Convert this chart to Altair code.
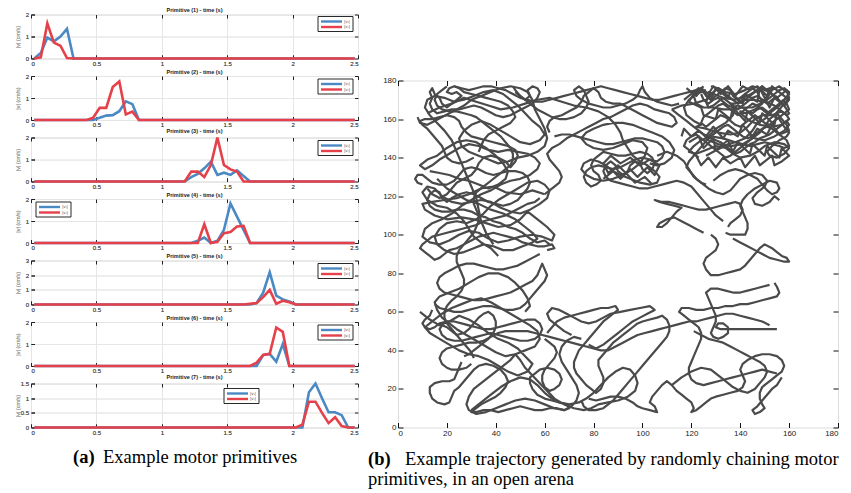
import altair as alt
import pandas as pd

BLUE = "#4a89c3"
RED = "#e6404a"
INK = "#4a4a4a"
GRID = "#e4e4e4"

T_FIRST, T_LAST = 0.025, 2.475
X_TICKS = [0, 0.5, 1, 1.5, 2, 2.5]

# Wheel speed profiles of the seven motor primitives (cm/s), sampled every 50 ms
# inside each primitive's active window; both wheels rest outside it.
p1_t = [0.025, 0.075, 0.125, 0.175, 0.225, 0.275, 0.325, 0.375]
p1_l = [0, 0.25, 0.95, 0.78, 1.0, 1.35, 0, 0]
p1_r = [0, 0.05, 1.6, 0.72, 0.58, 0.02, 0, 0]

p2_t = [0.425, 0.475, 0.525, 0.575, 0.625, 0.675, 0.725, 0.775, 0.825]
p2_l = [0, 0, 0.1, 0.2, 0.22, 0.4, 0.85, 0.72, 0]
p2_r = [0, 0.1, 0.55, 0.55, 1.5, 1.75, 0.25, 0.38, 0]

p3_t = [1.175, 1.225, 1.275, 1.325, 1.375, 1.425, 1.475, 1.525, 1.575, 1.625, 1.675]
p3_l = [0, 0.2, 0.35, 0.6, 0.9, 0.3, 0.4, 0.3, 0.5, 0.25, 0]
p3_r = [0, 0.45, 0.45, 0.2, 0.75, 2.0, 0.75, 0.55, 0.45, 0, 0]

p4_t = [1.225, 1.275, 1.325, 1.375, 1.425, 1.475, 1.525, 1.575, 1.625, 1.675]
p4_l = [0, 0.1, 0.25, 0, 0.1, 0.6, 1.8, 1.2, 0.6, 0]
p4_r = [0, 0, 0.85, 0, 0.05, 0.45, 0.5, 0.75, 0.78, 0]

p5_t = [1.625, 1.675, 1.725, 1.775, 1.825, 1.875, 1.925, 1.975, 2.025]
p5_l = [0, 0, 0.1, 0.8, 2.2, 0.6, 0.35, 0.2, 0]
p5_r = [0, 0.05, 0.1, 0.5, 1.0, 0.05, 0.25, 0.15, 0]

p6_t = [1.675, 1.725, 1.775, 1.825, 1.875, 1.925, 1.975]
p6_l = [0, 0, 0.5, 0.55, 0.2, 1.0, 0]
p6_r = [0, 0.15, 0.5, 0.55, 1.75, 1.55, 0]

p7_t = [2.025, 2.075, 2.125, 2.175, 2.225, 2.275, 2.325, 2.375, 2.425]
p7_l = [0, 0, 1.2, 1.5, 1.0, 0.52, 0.52, 0.42, 0]
p7_r = [0, 0.1, 0.88, 0.88, 0.5, 0.15, 0.35, 0.05, 0]

y_max = [2, 2, 2, 2, 3, 2, 1.5]
y_ticks = [[0, 1, 2], [0, 1, 2], [0, 1, 2], [0, 1, 2], [0, 1, 2, 3], [0, 1, 2], [0, 0.5, 1, 1.5]]
legend_names = ["|vₗ|", "|vᵣ|"]
# legend box (left, top) inside each panel, in pixels
legend_box = [(287, 2), (287, 3), (287, 3), (5, 3), (287, 3), (287, 3), (193, 5)]

# Trajectory of the robot in the arena (cm), one leg after another
leg_a = [(62,95),(60,97),(57,96),(54,98),(51,101),(48,103),(45,104),(42,106),(39,107),(36,109),(33,110),(30,112),
         (27,113),(24,113),(21,112),(18,112),(15,113),(13,115),(12,118),(13,121),(15,123),(17,122),(18,119),(20,117),
         (22,119),(25,121),(28,122),(31,121),(34,119),(37,117),(40,116),(43,115),(46,116),(49,118),(51,121),(53,124),
         (54,127),(53,130),(51,132),(48,133),(45,133),(42,132),(39,131),(36,132),(33,134),(30,135),(27,134),(25,131),
         (23,128),(20,126),(17,126),(14,127),(12,129),(10,131),(8,131),(7,129),(8,127),(10,126)]
leg_b = [(12,124),(14,121),(17,119),(20,121),(22,124),(24,127),(27,129),(30,131),(32,134),(33,137),(35,140),(38,141),
         (41,140),(44,138),(46,135),(48,138),(49,141),(48,144),(45,146),(42,147),(39,148),(36,149),(33,150),(30,151),
         (28,153),(26,156),(25,159),(23,161),(20,162),(17,161),(14,160),(11,160),(9,159),(10,157),(12,155),(14,152),
         (16,149),(18,146),(19,143),(20,140),(22,138),(25,137),(28,138),(31,140)]
leg_c = [(33,143),(34,146),(35,149),(37,152),(40,154),(43,156),(46,158),(48,161),(47,164),(45,167),(42,169),(39,170),
         (36,171),(33,172),(30,173),(27,174),(25,176),(23,177),(21,176),(20,174),(22,173),(24,174),(26,172),(24,170),
         (22,168),(20,166),(18,168),(17,171),(15,173),(14,176),(13,174),(14,171),(13,168),(14,165),(16,163),(19,164),
         (22,165),(25,165),(28,166),(31,167),(34,166),(37,164),(40,162),(43,161),(46,162),(49,164),(52,166),(55,168),
         (57,171),(58,174),(57,176),(55,177),(53,175),(54,172),(52,170),(50,172),(48,175),(47,177)]
leg_d = [(48,174),(51,171),(54,168),(57,165),(60,163),(63,161),(66,160),(69,160),(72,161),(75,163),(77,166),(78,169),
         (77,172),(76,175),(74,177),(72,175),(73,172),(75,170),(78,168),(81,167),(84,166),(87,166),(90,167),(93,168),
         (96,170),(98,172),(99,175),(100,177),(101,174),(103,171),(106,169),(109,168),(112,167),(115,168)]
leg_e = [(117,170),(119,172),(121,174),(123,176),(125,175),(126,172),(128,170),(130,172),(132,174),(134,176),(136,175),
         (137,172),(139,170),(141,172),(143,174),(145,176),(147,174),(148,171),(150,169),(152,171),(154,173),(156,175),
         (158,176),(160,174),(159,171),(157,169),(155,167),(153,165),(151,163),(149,165),(147,167),(145,168),(143,166),
         (141,164),(139,162),(137,164),(135,166),(133,168),(131,167),(129,165),(127,163),(125,161),(124,158),(126,156),
         (128,158),(130,160),(132,162),(134,161),(136,159),(138,157),(140,156),(142,158),(144,160),(146,162),(148,160),
         (150,158),(152,157),(154,159),(156,161),(158,163),(160,165),(159,168),(157,170)]
leg_f = [(155,172),(153,170),(151,168),(149,170),(147,172),(145,171),(143,169),(141,167),(139,165),(137,167),(135,169),
         (133,171),(131,169),(129,167),(127,166),(126,169),(127,172),(129,174),(131,176),(133,174),(135,172),(137,170),
         (139,168),(141,169),(143,171),(145,173),(147,175),(149,177),(151,175),(153,173),(155,171),(157,173),(159,175),
         (160,171),(158,168),(156,165),(154,162),(152,160),(150,156),(148,153),(146,151),(144,149),(142,147),(140,145),
         (138,143),(136,141),(134,140),(132,142),(130,144),(128,146),(126,148),(124,150),(122,152),(120,151),(118,149),
         (117,146),(119,144),(121,142),(123,140)]
leg_g = [(126,141),(129,143),(132,145),(135,147),(138,148),(141,147),(144,146),(147,147),(150,148),(153,147),(156,146),
         (158,145),(160,146),(159,149),(157,151),(155,153),(153,155),(151,156),(149,155),(147,153),(145,151),(143,150),
         (141,151),(139,153),(137,155),(135,157),(133,156),(131,154),(129,152),(127,150),(125,147),(123,144),(121,141),
         (119,138),(118,135),(120,132),(122,129),(124,127),(126,126)]
leg_h = [(129,128),(132,131),(135,133),(138,134),(141,133),(144,131),(147,129),(149,126),(151,123),(153,121),(155,122),
         (156,124),(155,127),(152,128),(149,126),(146,124),(143,121),(141,118),(140,115),(141,112),(142,109),(143,106),
         (143,103),(142,100),(139,100),(136,100),(134,101)]
leg_i = [(137,98),(140,96),(143,94),(146,92),(149,90),(152,88),(155,87),(158,86),(160,86),(159,88),(157,89),(155,91),
         (153,93),(150,95),(148,93),(146,90),(144,87),(142,84),(140,82),(137,81),(134,80),(131,79),(128,79),(126,82),
         (125,85),(126,88),(128,90),(130,92),(131,95),(130,98),(128,100)]
leg_j = [(125,101),(122,103),(119,105),(116,107),(113,109),(110,108),(107,106),(106,104),(108,104),(110,106),(112,109),
         (114,112),(116,114),(113,115),(110,116),(107,117),(105,118),(108,117),(111,117),(114,116),(117,115),(120,114),
         (123,113),(126,113),(129,114),(132,115),(135,116),(138,117),(140,116),(141,113),(140,110),(138,108),(136,106),
         (135,104)]
leg_k = [(133,107),(130,110),(128,113),(126,116),(124,119),(122,122),(120,125),(117,127),(114,128),(111,127),(108,126),
         (105,125),(102,124),(99,124),(96,125),(93,126),(90,127),(87,128),(85,130),(84,133),(85,136),(87,138),(89,136),
         (90,133),(92,131),(94,133),(95,136),(97,138),(99,137),(100,134),(102,132),(104,134),(105,137),(104,140),
         (102,142),(99,143),(96,142),(93,141),(90,141),(87,142),(84,143),(82,141),(80,139),(79,136),(80,133),(82,131),
         (83,128),(81,126),(79,125),(77,127),(76,130),(77,133),(79,135),(82,136),(85,135),(88,134),(91,135),(94,137),
         (97,139),(100,140),(103,139),(106,138),(108,140),(109,143),(108,146),(106,148),(103,149),(100,150),(97,150),
         (94,149),(91,148),(88,147),(85,147),(82,148),(79,149),(76,150),(73,151),(70,152),(67,152),(64,151)]
leg_l = [(62,153),(61,156),(62,159),(64,161),(67,162),(70,164),(73,166),(75,169),(76,172),(78,174),(80,176),(82,174),
         (83,171),(85,169),(88,168),(91,168),(94,166),(97,164),(100,162),(103,160),(106,158),(109,157),(112,156),
         (114,158),(113,161),(111,163),(108,164),(105,165),(102,167),(99,168),(96,167),(93,165),(90,163),(87,161),
         (84,160),(81,158),(78,156),(75,154),(72,152),(69,150),(66,147),(63,145),(61,142),(62,139),(64,136),(66,133),
         (67,130),(66,127),(64,125),(62,123),(60,121)]
leg_m = [(58,119),(56,117),(53,116),(50,114),(47,112),(44,110),(41,109),(38,108),(35,107),(32,105),(29,104),(26,103),
         (23,102),(20,101),(17,100),(14,99),(12,97),(10,95),(9,93),(11,91),(13,89),(15,87),(17,88),(19,90),(21,92),
         (24,93),(27,95),(30,97),(33,99),(36,100),(39,101),(42,100),(45,99),(48,98),(51,96),(54,95),(57,94),(60,94),
         (63,95),(64,93),(61,92)]
leg_n = [(58,90),(55,88),(52,86),(49,84),(46,83),(43,82),(40,82),(37,83),(34,84),(31,85),(28,85),(25,84),(22,82),
         (19,80),(17,78),(16,75),(17,72),(19,70),(22,69),(25,68),(28,67),(31,66),(34,66),(37,67),(40,68),(43,69),
         (46,70),(49,72),(52,74),(55,76),(57,79),(58,82),(59,85),(60,82),(61,79),(60,76),(58,73),(56,70),(54,67),
         (52,64),(50,62),(47,61),(44,61),(41,62),(38,63),(35,63),(32,62),(29,61),(26,60),(23,60),(20,61),(17,62),
         (15,64)]
leg_o = [(14,61),(13,58),(11,56),(10,54),(11,52),(13,51),(15,52),(17,54),(20,55),(23,55),(26,54),(29,53),(32,52),
         (35,51),(38,51),(41,52),(44,53),(47,54),(50,55),(53,56),(56,56),(58,54),(59,51),(58,48),(56,46),(53,45),
         (50,45),(47,46),(44,47),(41,48),(38,49),(35,48),(32,47),(29,46),(26,45),(23,45),(20,46),(18,48),(17,51),
         (18,53),(20,52),(22,50),(24,48),(27,49),(29,51),(31,54),(33,57),(35,59),(37,60),(39,58),(40,55),(40,52),
         (39,49),(37,46),(35,44),(33,42),(31,40),(29,38),(27,37)]
leg_p = [(26,34),(25,31),(24,28),(23,25),(21,24),(18,24),(15,23),(13,21),(13,18),(14,15),(16,13),(19,12),(21,13),
         (22,16),(23,19),(25,21),(27,24),(29,27),(31,30),(33,32),(36,33),(39,32),(42,30),(44,27),(45,24),(44,21),
         (42,18),(40,16),(37,14),(34,12),(32,10),(30,8),(32,8),(35,9),(38,9),(41,8),(44,9),(47,10),(50,11),(53,10),
         (56,9),(59,9),(62,10),(65,10),(68,9),(70,10),(69,12),(66,13),(63,14),(60,15),(57,17),(55,20),(54,23),(54,26),
         (56,28),(58,30),(61,31),(64,30),(66,28),(67,25),(66,22),(64,20),(62,19),(60,21),(59,24),(59,27),(60,30),
         (62,33),(64,36),(65,39),(64,42),(62,44),(60,46)]
leg_q = [(61,49),(63,52),(65,55),(68,57),(71,58),(74,59),(77,60),(80,61),(83,62),(86,62),(89,63),(90,61),(88,59),
         (86,57),(84,55),(82,52),(80,49),(78,46),(76,43),(74,40),(73,37),(72,34),(72,31),(73,28),(75,25),(77,22),
         (79,20),(81,18),(83,20),(84,23),(84,26),(83,29),(82,32),(82,35),(84,38),(86,41),(88,44),(90,46),(92,48),
         (94,50),(96,52),(98,54),(100,55),(103,56),(106,57),(108,58),(110,56),(111,53),(111,50),(110,47),(108,44),
         (106,41),(104,38),(102,35),(100,32),(98,29),(96,26),(94,23),(92,20),(90,17),(88,14),(86,12),(84,10),(81,9),
         (78,9),(76,11),(75,14)]
leg_r = [(78,15),(81,14),(84,15),(87,16),(90,16),(93,15),(96,13),(98,11),(100,10),(103,9),(106,8),(105,11),(103,13),
         (104,16),(106,19),(108,22),(110,24),(112,22),(114,19),(116,17),(118,15),(120,13),(121,10),(120,8),(122,9),
         (124,11),(126,13),(128,15),(130,16),(133,17),(136,18),(139,19),(141,21),(142,24),(141,27),(140,30),(141,33),
         (143,35),(146,37),(149,38),(152,38),(155,37),(157,35),(158,32),(157,29),(155,27),(153,25),(151,23),(149,21),
         (148,18),(148,15),(149,12),(150,10),(148,8),(146,7),(145,9),(147,11),(149,14),(151,17),(153,20),(155,22),
         (156,24),(157,26)]
leg_s = [(155,28),(152,29),(149,30),(146,29),(143,28),(140,27),(137,26),(134,25),(131,24),(128,23),(125,22),(122,23),
         (120,25),(119,28),(119,31),(120,34),(121,37),(122,40),(123,43),(124,46),(124,49),(123,52),(121,54),(119,56),
         (117,58),(115,60),(116,62),(119,62),(122,61),(125,61),(128,62),(131,62),(134,63),(137,63),(140,64),(143,64),
         (146,65),(149,66),(152,67),(155,68),(156,70),(155,73),(154,75)]
leg_t = [(152,74),(149,73),(146,72),(143,71),(140,70),(137,70),(134,71),(131,72),(128,72),(126,70),(127,67),(128,64),
         (129,61),(130,58),(130,55),(129,52),(128,49),(129,47),(131,46),(133,47),(135,49),(135,52),(133,54),(131,54),
         (130,52),(132,51),(135,51),(138,51),(141,51),(144,51),(147,51),(150,51),(153,51),(155,51)]
leg_u = [(152,53),(149,55),(146,56),(143,57),(140,58),(137,59),(134,59),(131,58),(128,57),(125,56),(122,55),(119,55),
         (116,54),(113,53),(110,52),(107,51),(104,50),(101,49),(98,48),(95,46),(92,44),(89,42),(86,40),(83,40),(80,41),
         (77,42),(74,43),(71,44),(68,45),(65,46),(62,47),(59,48),(56,49),(53,50),(50,50),(47,50),(44,50),(41,49),
         (38,47),(35,45),(32,44),(29,44),(26,43),(23,42),(20,41),(18,39),(17,36),(18,33),(20,31),(22,30),(25,30),
         (28,31),(30,33)]
leg_v = [(31,36),(30,39),(28,42),(26,45),(24,48),(22,51),(20,54),(19,57),(19,60),(20,63),(22,66),(24,68),(26,71),
         (27,74),(27,77),(26,80),(25,83),(24,86),(24,89),(25,92),(27,95),(29,98),(31,101),(32,104),(33,107),(33,110),
         (32,113),(31,116),(31,119),(32,122),(34,124),(36,126),(38,128),(40,130),(42,132),(44,134),(46,136),(47,139),
         (47,142),(46,145),(44,148),(42,151),(40,153),(38,155),(36,157),(34,159),(32,161),(30,162),(27,163),(24,164),
         (21,164),(18,165),(16,167),(15,170),(16,173),(18,175),(20,177)]
leg_w = [(23,177),(26,176),(29,175),(32,176),(35,177),(38,177),(41,176),(44,175),(47,173),(50,171),(53,170),(56,169),
         (59,169),(62,170),(65,171),(68,172),(71,173),(74,174),(77,175),(80,176),(83,177),(86,176),(89,175),(92,174),
         (95,173),(98,172),(101,171),(104,170),(107,170),(110,171),(113,172),(116,173),(119,174),(122,175)]
leg_x = [(124,173),(125,170),(127,168),(129,170),(131,171),(133,169),(135,167),(137,166),(139,167),(141,166),(143,164),
         (145,163),(147,165),(149,166),(151,164),(153,162),(155,163),(157,164),(159,162),(160,160),(158,158),(156,156),
         (154,154),(152,152),(150,151),(148,150),(146,148),(144,147),(142,145),(140,143),(138,142),(136,144),(134,146),
         (132,148),(130,149),(128,150),(126,151),(124,153),(122,155),(120,157),(118,159),(116,161),(114,163),(112,165)]
leg_y = [(112,165),(116,167),(121,168),(126,170),(128,172),(127,174),(129,173),(133,171),(138,170),(143,172),(147,175),
         (149,177),(150,175),(152,176),(151,172),(149,168),(146,165),(142,163),(140,164),(141,162),(144,159),(148,157),
         (153,156),(157,157),(159,159),(160,157),(158,154),(154,151),(150,149),(146,150),(144,152),(145,150),(141,147),
         (136,146),(131,147),(127,149),(125,152),(127,151),(130,155),(134,158),(137,162),(138,166),(136,168),(138,168),
         (141,170),(145,170),(150,169),(154,167),(157,164),(159,162),(160,163),(158,167),(155,171),(152,174),(148,176),
         (145,177),(142,175),(138,173),(134,174),(131,176),(128,177)]
leg_z = [(126,175),(122,173),(119,170),(117,166),(118,162),(121,159),(124,157),(122,156),(126,155),(131,153),(136,152),
         (140,153),(143,156),(146,160),(149,162),(153,162),(156,160),(158,156),(160,153),(159,151),(156,149),(153,146),
         (151,143),(152,141),(155,140),(158,142),(160,145),(158,147),(154,148),(150,146),(147,143),(144,141),(140,140),
         (137,142),(134,145),(130,146),(126,144),(122,142),(119,143),(121,146),(124,149),(128,151),(133,150),(138,148),
         (142,150),(145,154),(147,158),(150,160),(153,164),(156,167),(158,170),(160,173),(158,175),(156,177),(153,175),
         (151,171),(148,168),(145,166),(141,166),(137,165),(133,165),(129,166),(125,166),(122,168),(121,172),(123,175),
         (125,177)]
leg_aa = [(60,121),(55,123),(50,121),(44,122),(39,125),(34,124),(29,121),(24,119),(19,118),(14,117),(10,116),(11,113),
          (15,110),(20,108),(26,109),(31,108),(36,106),(41,104),(46,105),(50,108),(53,112),(55,110),(58,107),(61,104),
          (64,100),(63,97),(59,99),(55,100),(50,99),(45,97),(41,96),(37,98),(33,101),(29,102),(25,100),(21,97),(17,95),
          (13,96),(10,99),(11,103),(14,106),(18,108),(22,111),(26,115),(30,118),(34,121),(38,123),(42,126),(46,128),
          (50,129),(54,131),(57,134),(58,137),(56,140),(53,142),(49,143),(45,144),(41,143),(37,144),(33,146),(29,147),
          (25,145),(21,142),(17,139),(14,136),(11,134),(9,136),(12,139),(16,141),(20,145),(24,148),(28,149),(32,148),
          (36,145),(40,141),(43,137),(45,133),(44,129),(41,126),(37,124),(33,126),(29,128),(25,129),(21,131),(17,132),
          (13,133)]
leg_bb = [(16,129),(20,124),(24,121),(28,118),(33,116),(38,113),(43,111),(48,108),(52,104),(55,101),(57,98),(55,96),
          (51,94),(47,92),(43,92),(39,94),(35,95),(31,93),(27,91),(23,90),(19,92),(16,95),(15,99),(17,103),(20,106),
          (24,107),(28,106),(32,108),(35,111),(38,115),(41,118),(45,121),(49,124),(53,127),(57,128),(60,126),(62,123),
          (61,119),(58,116),(54,113),(50,111),(46,112),(42,114),(38,117),(34,118),(30,117),(26,116),(22,117),(18,120),
          (15,124),(12,125),(10,122),(12,118),(16,115),(20,114),(24,111),(27,107),(29,103),(31,99),(34,96),(38,93),
          (41,89)]
leg_cc = [(39,95),(36,101),(34,107),(33,113),(32,119),(30,125),(28,131),(26,137),(24,143),(22,149),(19,154),(16,158),
          (13,162),(11,166),(12,170),(15,172),(19,171),(23,169),(27,170),(31,172),(35,174),(39,175),(43,173),(46,170),
          (49,167),(52,163),(55,159),(58,156),(60,152),(58,149),(54,147),(50,148),(46,151),(42,154),(38,157),(34,159),
          (30,157),(27,154),(25,150),(26,146),(29,143),(33,141),(37,139),(41,137),(45,138),(49,140),(53,141),(57,143),
          (60,146),(61,150),(60,155),(58,160),(56,165),(55,170),(53,174),(50,176),(46,177),(42,176),(38,174),(34,172),
          (30,170),(27,167),(24,165),(21,163),(18,161),(15,159),(12,157),(9,158),(8,161)]
leg_dd = [(12,163),(17,166),(22,168),(27,171),(32,169),(37,167),(42,165),(47,166),(52,168),(57,170),(62,171),(67,169),
          (72,167),(77,166),(82,164),(86,161),(89,157),(91,153),(92,149),(94,145),(96,141),(99,138),(102,136),(105,133),
          (107,130),(106,127),(103,126),(99,127),(95,129),(91,131),(88,133),(85,136),(82,138),(79,139),(76,137),(75,134),
          (77,131),(80,129),(84,128),(88,129),(92,131),(96,134),(99,137),(101,141),(102,145),(100,148),(96,149),(92,147),
          (88,145),(84,144),(80,145),(77,147),(75,150),(77,153),(80,155),(84,157),(88,158),(92,158),(96,157),(100,155),
          (104,153),(108,151),(111,148),(113,144),(112,140),(109,137),(106,136),(103,137)]
leg_ee = [(106,141),(110,143),(114,141),(117,138),(119,134),(121,130),(124,127),(127,124),(130,122),(133,121),(136,123),
          (138,126),(140,129),(143,131),(146,132),(149,131),(151,128),(150,125),(147,122),(145,119),(146,116),(149,115),
          (152,117),(154,120),(156,118)]
leg_ff = [(9,60),(13,56),(17,53),(21,55),(25,58),(29,56),(33,53),(37,49),(41,46),(45,44),(49,41),(52,37),(55,33),(53,29),
          (49,27),(45,29),(41,32),(37,35),(33,37),(29,38),(25,40),(21,43),(17,46),(13,49),(11,52),(14,55),(18,59),(22,62),
          (26,64),(30,66),(34,67),(38,65),(42,62),(46,59),(50,56),(54,53),(57,50),(58,46),(56,42),(52,40),(48,38),(44,37),
          (40,39),(36,42),(32,45),(28,48),(24,51),(21,54),(18,57),(16,61),(15,65),(17,68),(21,70),(25,72),(29,75),(33,78),
          (37,80),(41,80),(45,78),(48,75),(51,71),(53,67),(54,63),(52,60)]
leg_gg = [(30,9),(34,13),(38,17),(42,21),(46,24),(50,26),(54,25),(57,22),(60,18),(63,15),(66,13),(70,12),(74,13),(77,15),
          (80,18),(83,22),(86,26),(89,29),(92,31),(95,30),(97,27),(98,23),(97,19),(94,16),(90,14),(86,13),(82,12),(79,10),
          (76,9),(72,10),(68,12),(64,15),(61,19),(58,23),(55,27),(52,31),(50,35),(48,38),(46,35),(43,32),(40,29),(37,26),
          (34,23),(31,20),(29,16),(28,12),(29,9),(32,7),(36,8),(40,10),(44,12),(48,14),(52,15),(56,14),(60,12),(64,10),
          (68,9),(71,11),(73,14),(74,18),(73,22),(71,26),(69,30),(67,34),(66,38),(67,42),(69,45),(72,47),(75,46)]
leg_hh = [(78,43),(81,41),(84,43),(87,46),(90,49),(93,52),(96,55),(99,57),(102,59),(105,61),(103,63),(99,62),(95,61),
          (91,60),(87,59),(84,57),(81,55),(78,54),(75,55),(72,57),(69,59),(66,61),(63,62),(61,59),(62,56),(65,53),(68,50),
          (71,48)]
leg_ii = [(112,22),(116,26),(120,29),(124,31),(128,30),(131,27),(134,24),(137,21),(140,19),(143,18),(146,20),(148,23),
          (150,26),(151,29),(150,32),(148,34),(145,36),(142,38),(139,40),(136,42),(133,44),(130,45),(127,46),(124,48),
          (121,50)]
leg_jj = [(118,176),(122,172),(124,175),(128,170),(130,176),(135,171),(136,174),(141,168),(142,173),(147,169),(148,176),
          (152,166),(154,171),(158,167),(160,170),(156,174),(153,177),(151,172),(147,177),(144,175),(141,177),(138,172),
          (135,177),(132,173),(129,177),(127,173),(124,176),(121,173),(119,169),(124,166),(125,162),(130,160),(131,165),
          (136,160),(137,166),(142,159),(143,164),(148,158),(149,163),(154,157),(155,163),(159,157),(160,154),(156,152),
          (153,157),(151,152),(147,155),(145,151),(141,157),(139,151),(135,154),(133,150),(129,156),(126,151),(123,154),
          (120,151),(117,155),(116,151)]
leg_kk = [(119,148),(123,151),(125,145),(129,150),(130,144),(135,149),(137,143),(139,148),(144,142),(145,147),(150,141),
          (151,146),(156,140),(157,145),(160,141),(157,138),(154,136),(153,141),(148,136),(146,141),(142,135),(140,140),
          (136,137),(133,140),(130,135),(127,140),(124,136),(122,141),(120,143)]
leg_ll = [(84,129),(88,133),(91,129),(95,134),(98,130),(102,135),(105,131),(107,136),(103,139),(99,136),(95,140),
          (91,137),(87,141),(84,137),(86,132),(90,136),(94,131),(97,127),(101,130),(104,126)]
legs = [leg_a, leg_b, leg_c, leg_d, leg_e, leg_f, leg_g, leg_h, leg_i, leg_j, leg_k, leg_l, leg_m, leg_n, leg_o,
        leg_p, leg_q, leg_r, leg_s, leg_t, leg_u, leg_v, leg_w, leg_x, leg_y, leg_z, leg_aa, leg_bb, leg_cc, leg_dd,
        leg_ee, leg_ff, leg_gg, leg_hh, leg_ii, leg_jj, leg_kk, leg_ll]
ARENA_TICKS = list(range(0, 181, 20))

PANEL_W, PANEL_H = 327, 44
TRAJ_W, TRAJ_H = 440, 347
CAPTION_SIZE = 18.5


def one_row():
    return pd.DataFrame({"k": [0]})


def caption(text, x, y, bold=False):
    return alt.Chart(one_row()).mark_text(
        text=text, fontSize=CAPTION_SIZE, fontWeight="bold" if bold else "normal", align="left",
        baseline="alphabetic", font="Liberation Serif", color="#000").encode(x=alt.value(x), y=alt.value(y))


def primitive_panel(k, t, vl, vr):
    ymax = y_max[k - 1]
    times = ([T_FIRST] if t[0] > T_FIRST else []) + list(t) + [T_LAST]
    pad_l = [0] if t[0] > T_FIRST else []
    df_l = pd.DataFrame({"t": times, "v": pad_l + list(vl) + [0]})
    df_r = pd.DataFrame({"t": times, "v": pad_l + list(vr) + [0]})
    xs = alt.Scale(domain=[0, 2.5], nice=False, zero=False)
    ys = alt.Scale(domain=[0, ymax], nice=False)

    x_axis = alt.Axis(values=X_TICKS, format="~g", orient="bottom", offset=-3.5, tickSize=3.5,
                      domain=False, grid=True, gridColor=GRID, gridWidth=0.8, tickColor="#222",
                      labelFontSize=6, labelColor="#555", labelPadding=1.5, title=None)
    y_axis = alt.Axis(values=y_ticks[k - 1], format="~g", orient="left", offset=-3.5, tickSize=3.5,
                      domain=False, grid=True, gridColor=GRID, gridWidth=0.8, tickColor="#222",
                      labelFontSize=6, labelColor="#555", labelPadding=2.5,
                      title="|v| (cm/s)", titleFontSize=5.5, titleColor="#999", titleFontWeight="normal",
                      titleX=-17.5, titleY=PANEL_H / 2, titleBaseline="middle")
    line_l = alt.Chart(df_l).mark_line(color=BLUE, strokeWidth=2.6, strokeJoin="miter").encode(
        x=alt.X("t:Q", scale=xs, axis=x_axis), y=alt.Y("v:Q", scale=ys, axis=y_axis))
    line_r = alt.Chart(df_r).mark_line(color=RED, strokeWidth=2.6, strokeJoin="miter").encode(
        x=alt.X("t:Q", scale=xs, axis=x_axis), y=alt.Y("v:Q", scale=ys, axis=y_axis))

    # tick marks on the top and right edges of the box
    edge = alt.Chart(df_l).mark_point(opacity=0).encode(
        x=alt.X("t:Q", scale=xs, axis=alt.Axis(values=X_TICKS, orient="top", offset=-3.5, tickSize=3.5,
                                               labels=False, domain=False, grid=False, tickColor="#222",
                                               title=None)),
        y=alt.Y("v:Q", scale=ys, axis=alt.Axis(values=y_ticks[k - 1], orient="right", offset=-3.5,
                                               tickSize=3.5, labels=False, domain=False, grid=False,
                                               tickColor="#222", title=None)))

    lx, ly = legend_box[k - 1]
    box = alt.Chart(one_row()).mark_rect(fill="white", stroke="#111", strokeWidth=0.9).encode(
        x=alt.value(lx), x2=alt.value(lx + 35), y=alt.value(ly), y2=alt.value(ly + 15))
    key_l = alt.Chart(one_row()).mark_rule(color=BLUE, strokeWidth=2.4).encode(
        x=alt.value(lx + 3), x2=alt.value(lx + 24), y=alt.value(ly + 5))
    key_r = alt.Chart(one_row()).mark_rule(color=RED, strokeWidth=2.4).encode(
        x=alt.value(lx + 3), x2=alt.value(lx + 24), y=alt.value(ly + 10.5))
    txt_l = alt.Chart(one_row()).mark_text(text=legend_names[0], fontSize=4, align="left", baseline="middle",
                                           color="#444", font="DejaVu Sans").encode(
        x=alt.value(lx + 26), y=alt.value(ly + 5))
    txt_r = alt.Chart(one_row()).mark_text(text=legend_names[1], fontSize=4, align="left", baseline="middle",
                                           color="#444", font="DejaVu Sans").encode(
        x=alt.value(lx + 26), y=alt.value(ly + 10.5))

    layers = [line_l, line_r, edge, box, key_l, key_r, txt_l, txt_r]
    if k == 7:
        layers += [caption("(a)", 42, 79, bold=True), caption("Example motor primitives", 72, 79)]

    return alt.layer(*layers).resolve_axis(x="independent", y="independent").properties(
        width=PANEL_W, height=PANEL_H,
        title=alt.TitleParams(f"Primitive ({k}) - time (s)", fontSize=5.5, fontWeight="bold",
                              color="#222", offset=-2.3, font="Liberation Sans"))


primitives = [(p1_t, p1_l, p1_r), (p2_t, p2_l, p2_r), (p3_t, p3_l, p3_r), (p4_t, p4_l, p4_r),
              (p5_t, p5_l, p5_r), (p6_t, p6_l, p6_r), (p7_t, p7_l, p7_r)]
panels = [primitive_panel(i + 1, *p) for i, p in enumerate(primitives)]
left = alt.vconcat(*panels, spacing=17.5, bounds="flush")

# arena trajectory
rows = []
for n, leg in enumerate(legs):
    for x, y in leg:
        rows.append((len(rows), n, x, y))
traj = pd.DataFrame(rows, columns=["i", "leg", "x", "y"])
ax = alt.Scale(domain=[0, 180], nice=False, zero=False)
ay = alt.Scale(domain=[0, 180], nice=False, zero=False)
path = alt.Chart(traj).mark_line(color=INK, strokeWidth=2.2, strokeJoin="round").encode(
    x=alt.X("x:Q", scale=ax, axis=alt.Axis(values=ARENA_TICKS, orient="bottom", offset=-5, tickSize=5,
                                           domain=False, grid=False, tickColor="#111", labelFontSize=8,
                                           labelColor="#222", labelPadding=1.5, title=None)),
    y=alt.Y("y:Q", scale=ay, axis=alt.Axis(values=ARENA_TICKS, orient="left", offset=-5, tickSize=5,
                                           domain=False, grid=False, tickColor="#111", labelFontSize=8,
                                           labelColor="#222", labelPadding=2, title=None)),
    detail="leg:N", order="i:Q")
path_edge = alt.Chart(traj).mark_point(opacity=0).encode(
    x=alt.X("x:Q", scale=ax, axis=alt.Axis(values=ARENA_TICKS, orient="top", offset=-5, tickSize=5,
                                           labels=False, domain=False, grid=False, tickColor="#111",
                                           title=None)),
    y=alt.Y("y:Q", scale=ay, axis=alt.Axis(values=ARENA_TICKS, orient="right", offset=-5, tickSize=5,
                                           labels=False, domain=False, grid=False, tickColor="#111",
                                           title=None)))
arena = alt.layer(
    path, path_edge,
    caption("(b)", -30, 384, bold=True),
    caption("Example trajectory generated by randomly chaining motor", 7, 384),
    caption("primitives, in an open arena", -30, 404),
).resolve_axis(x="independent", y="independent").properties(width=TRAJ_W, height=TRAJ_H)

spacer = alt.Chart(one_row()).mark_point(opacity=0).properties(
    width=TRAJ_W, height=66, view=alt.ViewBackground(stroke="transparent"))
right = alt.vconcat(spacer, arena, spacing=0, bounds="flush")

chart = alt.hconcat(left, right, spacing=6).properties(
    padding={"left": 14, "top": 7.5, "right": 0, "bottom": 0}, background="white"
).configure_view(stroke="#1a1a1a", strokeWidth=1).configure(font="Liberation Sans")

chart.save("out.html", embed_options={"renderer": "svg", "actions": False})
